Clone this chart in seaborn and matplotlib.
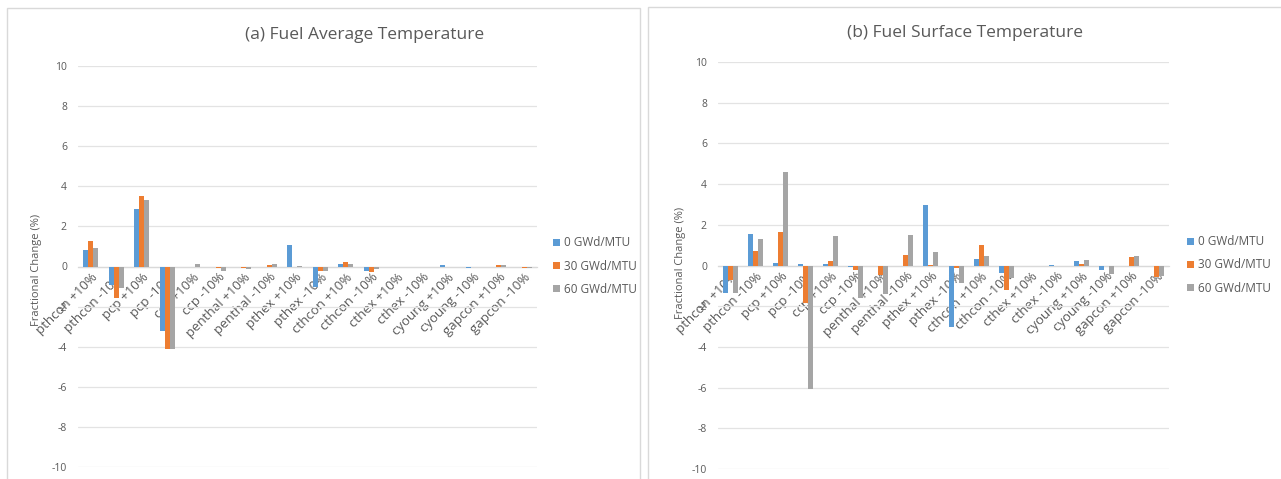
import matplotlib
matplotlib.use("Agg")
import matplotlib.pyplot as plt
from matplotlib.patches import Rectangle, Patch
import seaborn as sns
import pandas as pd

# ---------------- data ----------------
categories = ["pthcon +10%", "pthcon -10%", "pcp +10%", "pcp -10%", "ccp +10%", "ccp -10%",
              "penthal +10%", "penthal -10%", "pthex +10%", "pthex -10%", "cthcon +10%",
              "cthcon -10%", "cthex +10%", "cthex -10%", "cyoung +10%", "cyoung -10%",
              "gapcon +10%", "gapcon -10%"]
series_names = ["0 GWd/MTU", "30 GWd/MTU", "60 GWd/MTU"]

avg_0 = [0.80, -0.92, 2.87, -3.20, 0.0, -0.03, 0.0, 0.0, 1.05, -1.00,
         0.12, -0.20, -0.03, 0.0, 0.07, -0.07, 0.0, 0.0]
avg_30 = [1.28, -1.58, 3.50, -4.10, 0.0, -0.05, -0.05, 0.05, 0.0, -0.23,
          0.20, -0.28, 0.0, 0.0, 0.0, -0.03, 0.05, -0.08]
avg_60 = [0.93, -1.08, 3.30, -4.10, 0.13, -0.20, -0.12, 0.12, 0.03, -0.20,
          0.10, -0.13, 0.0, 0.0, 0.0, -0.03, 0.05, -0.07]

surf_0 = [-1.36, 1.54, 0.10, 0.08, 0.08, -0.05, 0.0, 0.0, 2.97, -3.00,
          0.31, -0.39, 0.0, 0.04, 0.20, -0.23, 0.0, 0.0]
surf_30 = [-0.70, 0.72, 1.64, -1.85, 0.23, -0.20, -0.45, 0.51, 0.03, -0.13,
           1.02, -1.20, 0.0, 0.0, 0.05, 0.0, 0.44, -0.55]
surf_60 = [-1.36, 1.31, 4.60, -6.08, 1.46, -1.60, -1.41, 1.48, 0.64, -0.86,
           0.47, -0.60, 0.0, 0.0, 0.29, -0.44, 0.47, -0.52]

titles = ["(a) Fuel Average Temperature", "(b) Fuel Surface Temperature"]
y_label = "Fractional Change (%)"
y_ticks = [-10, -8, -6, -4, -2, 0, 2, 4, 6, 8, 10]

colors = ["#5B9BD5", "#ED7D31", "#A5A5A5"]
text_color = "#595959"

sns.set_style("white")
plt.rcParams["font.family"] = ["Open Sans", "DejaVu Sans"]
plt.rcParams["axes.unicode_minus"] = False

W, H = 1281, 479
fig = plt.figure(figsize=(W / 100, H / 100), dpi=100)

# panel borders
fig.patches.append(Rectangle((7 / W, -0.1), (640 - 7) / W, (1 - 8 / H) + 0.1,
                             transform=fig.transFigure, fill=False,
                             edgecolor="#d9d9d9", lw=1, zorder=0))
fig.patches.append(Rectangle((648 / W, -0.1), (1281 - 648) / W + 0.1, (1 - 7 / H) + 0.1,
                             transform=fig.transFigure, fill=False,
                             edgecolor="#d9d9d9", lw=1, zorder=0))


def make_df(s0, s30, s60):
    rows = []
    for name, vals in zip(series_names, [s0, s30, s60]):
        for c, v in zip(categories, vals):
            rows.append({"cat": c, "val": v, "series": name})
    return pd.DataFrame(rows)


panels = [
    dict(data=make_df(avg_0, avg_30, avg_60), rect=(78, 66, 537, 467),
         title_xy=(365, 35), ylab_xy=(37, 270), leg_xy=(553, 266)),
    dict(data=make_df(surf_0, surf_30, surf_60), rect=(718, 62, 1169, 469),
         title_xy=(965, 33), ylab_xy=(680, 263), leg_xy=(1187, 265)),
]

for p, title in zip(panels, titles):
    x0, y0, x1, y1 = p["rect"]
    ax = fig.add_axes([x0 / W, 1 - y1 / H, (x1 - x0) / W, (y1 - y0) / H])
    sns.barplot(data=p["data"], x="cat", y="val", hue="series", order=categories,
                hue_order=series_names, palette=colors, saturation=1, width=0.6,
                errorbar=None, linewidth=0, legend=False, ax=ax, zorder=3)
    ax.set_ylim(-10, 10)
    ax.set_xlim(-0.5, len(categories) - 0.5)
    ax.set_yticks(y_ticks)
    ax.set_yticklabels([str(t) for t in y_ticks])
    ax.set_axisbelow(True)
    ax.yaxis.grid(True, color="#e3e3e3", lw=0.9)
    ax.xaxis.grid(False)
    for s in ["left", "right", "top"]:
        ax.spines[s].set_visible(False)
    ax.spines["bottom"].set_position(("data", 0))
    ax.spines["bottom"].set_color("#d9d9d9")
    ax.spines["bottom"].set_linewidth(0.9)
    ax.spines["bottom"].set_zorder(2)
    ax.tick_params(axis="y", length=0, pad=8, labelsize=7.5, labelcolor=text_color)
    ax.tick_params(axis="x", length=0, pad=3, labelsize=9.5, labelcolor=text_color)
    ax.set_xticks(range(len(categories)))
    ax.set_xticklabels(categories, rotation=45, ha="right", rotation_mode="anchor")
    ax.set_xlabel("")
    ax.set_ylabel("")

    fig.text(p["title_xy"][0] / W, 1 - p["title_xy"][1] / H, title,
             ha="center", va="center", fontsize=12.5, color=text_color)
    fig.text(p["ylab_xy"][0] / W, 1 - p["ylab_xy"][1] / H, y_label, rotation=90,
             ha="center", va="center", fontsize=8, color=text_color)

    handles = [Patch(facecolor=c, edgecolor="none") for c in colors]
    ax.legend(handles, series_names, loc="center left",
              bbox_to_anchor=(p["leg_xy"][0] / W, 1 - p["leg_xy"][1] / H),
              bbox_transform=fig.transFigure, frameon=False, fontsize=8.5,
              handlelength=0.6, handleheight=0.6, handletextpad=0.3,
              labelspacing=0.85, borderpad=0, borderaxespad=0,
              labelcolor=text_color)

fig.savefig("out.png", dpi=100, facecolor="white")
